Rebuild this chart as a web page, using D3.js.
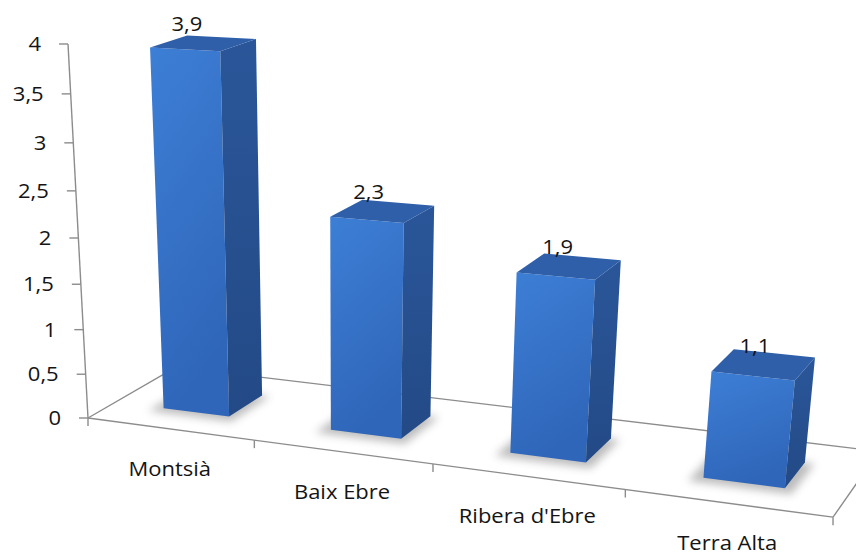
<!DOCTYPE html>
<html>
<head>
<meta charset="utf-8">
<script src="https://cdn.jsdelivr.net/npm/d3@7"></script>
<style>
  body { margin: 0; background: #fff; }
  text { font-family: "Open Sans", sans-serif; font-size: 20px; fill: #141414; }
</style>
</head>
<body>
<svg></svg>
<script>
const width = 856;
const height = 555;

// data
const categories = ["Montsià", "Baix Ebre", "Ribera d'Ebre", "Terra Alta"];
const values = [3.9, 2.3, 1.9, 1.1];
const valueTicks = [0, 0.5, 1, 1.5, 2, 2.5, 3, 3.5, 4];

// comma decimal, like the original spreadsheet
const locale = d3.formatLocale({ decimal: ",", thousands: ".", grouping: [3], currency: ["", "€"] });
const fmt = locale.format(".1~f");

var svg = d3.select("svg")
    .attr("width", width)
    .attr("height", height);

// world box is a unit cube: u across the categories, v up the values, w into the page
var x = d3.scaleBand()
    .domain(categories)
    .range([0, 1])
    .paddingInner(0.6)
    .paddingOuter(0.3);

var y = d3.scaleLinear()
    .domain([0, 4])
    .range([0, 1]);

var z = d3.scaleBand()
    .domain(["serie"])
    .range([0, 1])
    .paddingInner(0.6)
    .paddingOuter(0.3);

// perspective camera (homogeneous 3x4), rows: screen x, screen y, depth
const cam = [
  [88, 630.4, -24.9, 100.1],
  [418, 28.0, -377.2, -25.7],
  [1, -0.1376, -0.0722, 0.0688]
];

function project(u, v, w) {
  var h = [1, u, v, w];
  var d = d3.sum(h, (k, i) => k * cam[2][i]);
  return [d3.sum(h, (k, i) => k * cam[0][i]) / d,
          d3.sum(h, (k, i) => k * cam[1][i]) / d];
}

var line = d3.line();
var textScale = " scale(1.1,1)";

// defs: gradients and shadow blur
var defs = svg.append("defs");
var gFront = defs.append("linearGradient").attr("id", "front")
    .attr("x1", 0).attr("y1", 0).attr("x2", 0.3).attr("y2", 1);
gFront.append("stop").attr("offset", 0).attr("stop-color", "#3d7fd6");
gFront.append("stop").attr("offset", 1).attr("stop-color", "#2f66b9");

var gSide = defs.append("linearGradient").attr("id", "side")
    .attr("x1", 0).attr("y1", 0).attr("x2", 0).attr("y2", 1);
gSide.append("stop").attr("offset", 0).attr("stop-color", "#2a5699");
gSide.append("stop").attr("offset", 1).attr("stop-color", "#234a86");

defs.append("filter").attr("id", "blur")
    .attr("x", "-50%").attr("y", "-50%").attr("width", "200%").attr("height", "200%")
  .append("feGaussianBlur").attr("stdDeviation", 4);

// floor outline
var floor = svg.append("g")
    .attr("fill", "none")
    .attr("stroke", "#8c8c8c")
    .attr("stroke-width", 1.4);

[[[0, 0], [1, 0]], [[1, 0], [1, 1]], [[0, 1], [1, 1]], [[0, 0], [0, 1]]].forEach(function(e) {
  floor.append("path")
      .attr("d", line([project(e[0][0], 0, e[0][1]), project(e[1][0], 0, e[1][1])]));
});

// category ticks on the front edge
var boundaries = d3.range(categories.length + 1).map(i => i * x.step());
floor.selectAll(".ctick")
    .data(boundaries)
    .enter()
    .append("path")
    .attr("class", "ctick")
    .attr("d", function(u) {
      var p = project(u, 0, 0);
      return line([p, [p[0], p[1] + 8]]);
    });

// bars
var w0 = z("serie"), w1 = w0 + z.bandwidth();
var bars = svg.append("g")
    .selectAll("g")
    .data(categories.map((c, i) => ({ cat: c, value: values[i] })))
    .enter()
    .append("g");

// soft shadow on the floor
bars.append("path")
    .attr("fill", "#7a7a7a")
    .attr("opacity", 0.5)
    .attr("filter", "url(#blur)")
    .attr("d", function(d) {
      var u0 = x(d.cat) - 0.014, u1 = x(d.cat) + x.bandwidth() + 0.012;
      return line([project(u0, 0, w0 - 0.07), project(u1, 0, w0 - 0.07),
                   project(u1, 0, w1), project(u0, 0, w1)]) + "Z";
    });

// front face
bars.append("path")
    .attr("fill", "url(#front)")
    .attr("d", function(d) {
      var u0 = x(d.cat), u1 = u0 + x.bandwidth(), v = y(d.value);
      return line([project(u0, 0, w0), project(u1, 0, w0),
                   project(u1, v, w0), project(u0, v, w0)]) + "Z";
    });

// right side
bars.append("path")
    .attr("fill", "url(#side)")
    .attr("d", function(d) {
      var u1 = x(d.cat) + x.bandwidth(), v = y(d.value);
      return line([project(u1, 0, w0), project(u1, 0, w1),
                   project(u1, v, w1), project(u1, v, w0)]) + "Z";
    });

// top
bars.append("path")
    .attr("fill", "#2f5fa9")
    .attr("d", function(d) {
      var u0 = x(d.cat), u1 = u0 + x.bandwidth(), v = y(d.value);
      return line([project(u0, v, w0), project(u1, v, w0),
                   project(u1, v, w1), project(u0, v, w1)]) + "Z";
    });

// data labels
bars.append("text")
    .attr("text-anchor", "middle")
    .attr("transform", function(d) {
      var uc = x(d.cat) + x.bandwidth() / 2, v = y(d.value);
      var px = project(uc, v, w0)[0] + 2;
      var py = project(uc, v, (w0 + w1) / 2)[1] - 12;
      return "translate(" + px + "," + py + ")" + textScale;
    })
    .text(d => fmt(d.value));

// value axis
var axis = svg.append("g");
axis.append("path")
    .attr("fill", "none")
    .attr("stroke", "#8c8c8c")
    .attr("stroke-width", 1.4)
    .attr("d", line([project(0, 0, 0), project(0, y(4), 0)]));

axis.selectAll(".vtick")
    .data(valueTicks)
    .enter()
    .append("path")
    .attr("class", "vtick")
    .attr("stroke", "#8c8c8c")
    .attr("stroke-width", 1.4)
    .attr("d", function(t) {
      var p = project(0, y(t), 0);
      return line([[p[0] - 9, p[1]], p]);
    });

axis.selectAll(".vlabel")
    .data(valueTicks)
    .enter()
    .append("text")
    .attr("class", "vlabel")
    .attr("text-anchor", "end")
    .attr("dy", "0.36em")
    .attr("transform", function(t) {
      var p = project(0, y(t), 0);
      return "translate(" + (p[0] - 27) + "," + p[1] + ")" + textScale;
    })
    .text(t => fmt(t));

// category labels
svg.append("g")
    .selectAll("text")
    .data(categories)
    .enter()
    .append("text")
    .attr("text-anchor", "middle")
    .attr("transform", function(c) {
      var p = project(x(c) + x.bandwidth() / 2, 0, 0);
      return "translate(" + p[0] + "," + (p[1] + 47) + ")" + textScale;
    })
    .text(c => c);
</script>
</body>
</html>
